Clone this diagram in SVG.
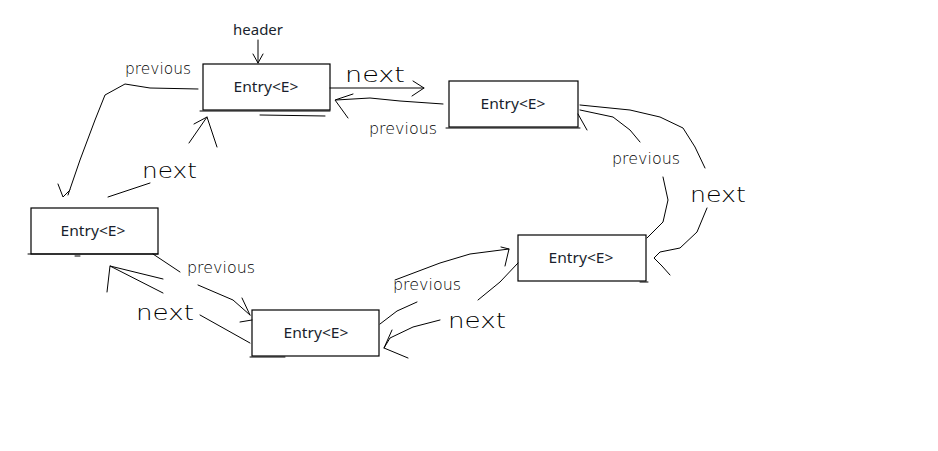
<svg xmlns="http://www.w3.org/2000/svg" width="938" height="451" viewBox="0 0 938 451">
<style>
.box{fill:#fff;stroke:#000;stroke-width:1.2}
.t{font-family:"Noto Sans","Liberation Sans",sans-serif;font-size:14.5px;fill:#1a1f2e;text-anchor:middle}
.h{font-family:"DejaVu Sans","Liberation Sans",sans-serif;font-weight:200;fill:#000}
.c{fill:none;stroke:#000;stroke-width:1;stroke-linecap:round;stroke-linejoin:round}
</style>
<rect width="938" height="451" fill="#fff"/>
<g id="header">
<text class="t" x="258" y="35" textLength="50" lengthAdjust="spacingAndGlyphs">header</text>
<path class="c" d="M258,40 L258,63 M253,54 L258,63 L263,54"/>
</g>
<g id="entry1">
<rect class="box" x="203" y="64" width="127" height="46"/>
<path class="c" d="M200,111 L330,111 M260,115 L325,116"/>
<text class="t" x="266" y="92" textLength="65" lengthAdjust="spacingAndGlyphs">Entry&lt;E&gt;</text>
</g>
<g id="entry2">
<rect class="box" x="449" y="81" width="129" height="46"/>
<path class="c" d="M446,128 L580,128"/>
<text class="t" x="513" y="109" textLength="65" lengthAdjust="spacingAndGlyphs">Entry&lt;E&gt;</text>
</g>
<g id="entry3">
<rect class="box" x="31" y="208" width="127" height="46"/>
<path class="c" d="M28,254 L158,254 M75,256 L80,256"/>
<text class="t" x="93" y="236" textLength="65" lengthAdjust="spacingAndGlyphs">Entry&lt;E&gt;</text>
</g>
<g id="entry4">
<rect class="box" x="252" y="310" width="127" height="46"/>
<path class="c" d="M250,357 L285,357"/>
<text class="t" x="316" y="338" textLength="65" lengthAdjust="spacingAndGlyphs">Entry&lt;E&gt;</text>
</g>
<g id="entry5">
<rect class="box" x="518" y="235" width="128" height="46"/>
<path class="c" d="M640,282 L648,282"/>
<text class="t" x="581" y="263" textLength="65" lengthAdjust="spacingAndGlyphs">Entry&lt;E&gt;</text>
</g>
<g id="connectors">
<path class="c" d="M330,88 L424,88 M413,81 L424,88 L412,96"/>
<text class="h" x="345" y="82" font-size="21" textLength="60" lengthAdjust="spacingAndGlyphs">next</text>
<path class="c" d="M443,104 L400,101 L370,98 L336,100 M353,94 L335,100 L348,118"/>
<text class="h" x="369" y="134" font-size="16" textLength="68" lengthAdjust="spacingAndGlyphs">previous</text>
<path class="c" d="M198,89 L150,88 L125,84 L105,95 L95,120 L80,160 L68,195 M58,184 L63,197 L70,190"/>
<text class="h" x="125" y="74" font-size="16" textLength="66" lengthAdjust="spacingAndGlyphs">previous</text>
<path class="c" d="M108,197 L150,183"/>
<text class="h" x="142" y="178" font-size="21" textLength="55" lengthAdjust="spacingAndGlyphs">next</text>
<path class="c" d="M189,143 L207,117 M194,124 L207,117 L217,147"/>
<path class="c" d="M580,105 L630,110 L660,117 L683,128 L695,147 L705,168"/>
<text class="h" x="690" y="202" font-size="21" textLength="56" lengthAdjust="spacingAndGlyphs">next</text>
<path class="c" d="M707,208 L697,232 L680,248 L660,252 L654,258 L662,266 L670,275"/>
<path class="c" d="M580,110 L613,117 L630,130 L640,142 M578,114 L587,130"/>
<text class="h" x="612" y="164" font-size="16" textLength="68" lengthAdjust="spacingAndGlyphs">previous</text>
<path class="c" d="M663,177 L668,200 L663,222 L647,238"/>
<path class="c" d="M518,263 L500,282 L478,300"/>
<text class="h" x="448" y="328" font-size="21" textLength="58" lengthAdjust="spacingAndGlyphs">next</text>
<path class="c" d="M440,320 L413,327 L390,338 L384,348 M392,330 L384,348 L408,358"/>
<path class="c" d="M380,324 L397,311 L417,302"/>
<text class="h" x="393" y="290" font-size="16" textLength="68" lengthAdjust="spacingAndGlyphs">previous</text>
<path class="c" d="M395,280 L440,263 L470,254 L509,249 M501,247 L509,249 L505,266"/>
<path class="c" d="M153,254 L180,272"/>
<text class="h" x="187" y="273" font-size="16" textLength="68" lengthAdjust="spacingAndGlyphs">previous</text>
<path class="c" d="M198,285 L233,300 L250,315 M242,298 L250,315 M240,322 L252,320"/>
<path class="c" d="M250,343 L200,315"/>
<text class="h" x="136" y="320" font-size="21" textLength="58" lengthAdjust="spacingAndGlyphs">next</text>
<path class="c" d="M163,293 L110,266 L163,279 M110,266 L107,292"/>
</g>
</svg>
